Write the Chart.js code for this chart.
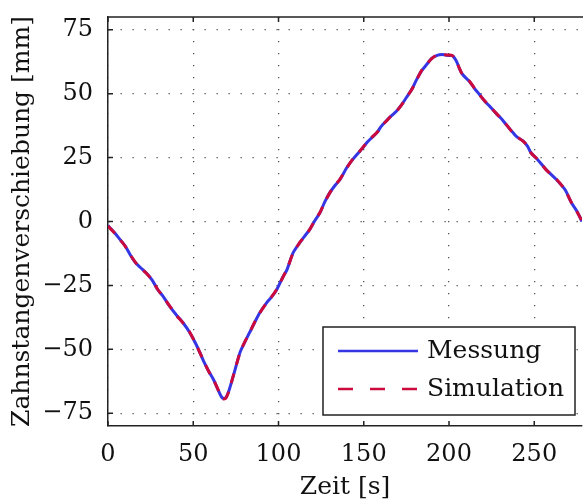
<!DOCTYPE html>
<html>
<head>
<meta charset="utf-8">
<script src="https://cdn.jsdelivr.net/npm/chart.js@4/dist/chart.umd.min.js"></script>
<style>
  html, body { margin: 0; padding: 0; background: #fff; }
  #wrap { width: 583px; height: 502px; position: relative; }
</style>
</head>
<body>
<div id="wrap"><canvas id="grafico"></canvas></div>
<script>
// Werte
const zeit = [0, 4, 7, 10, 13, 16, 19, 23, 26, 29, 32, 36, 40, 44, 48, 52, 56, 59, 62, 65, 67, 69, 71, 73.5, 77.4, 80, 83, 86, 89, 93, 96, 99, 102.8, 105, 108.6, 112.5, 115, 118.4, 121, 124.3, 127, 130, 133, 136, 140, 143, 146, 149, 152, 155, 158, 160, 163, 166, 169, 172, 175, 178, 181, 184, 187, 190, 193, 196, 199, 202, 204.4, 206, 208, 212, 215, 218, 221, 224, 228, 231, 234, 237.6, 240, 243.4, 246, 248, 252, 257, 263, 268, 271.8, 275, 278];
const messung = [-1.6, -4.5, -7, -9.5, -13, -16, -18, -20.5, -23, -26.5, -29, -33, -36.5, -39.6, -43.5, -48.5, -54.5, -58.5, -62, -66.5, -69, -69, -66, -60.4, -51.3, -47.5, -43.5, -39.5, -35.7, -31.8, -29.5, -26.6, -21.4, -18.8, -12.2, -8.3, -6, -3.1, 0, 3.4, 7.5, 11.2, 14, 16.4, 21, 23.8, 26.2, 28.5, 31, 33, 35, 37, 39.2, 41.2, 43, 45.5, 48.5, 51.5, 55.5, 59, 61.5, 63.9, 65, 65.3, 65, 64.8, 62.6, 60, 57.5, 54.8, 52, 49.6, 47, 45, 42, 40, 37.5, 34.7, 33, 31.5, 29.5, 27, 24.2, 20.3, 16.4, 12.5, 7.3, 4, 0];
const simulation = [-1.8, -4.6, -7.1, -9.6, -13, -15.9, -18.1, -20.6, -23.1, -26.4, -29.1, -32.9, -36.6, -39.7, -43.4, -48.6, -54.4, -58.6, -62.1, -66.4, -69.2, -69.2, -66.1, -60.3, -51.4, -47.4, -43.6, -39.4, -35.8, -31.9, -29.4, -26.5, -21.5, -18.7, -12.3, -8.2, -6.1, -3, 0.1, 3.5, 7.4, 11.1, 14.1, 16.5, 20.9, 23.9, 26.1, 28.6, 31, 33.1, 35, 37.1, 39.1, 41.3, 43, 45.4, 48.6, 51.4, 55.4, 59.1, 61.6, 63.8, 65.1, 65.4, 65.1, 64.9, 62.5, 60.1, 57.4, 54.9, 52.1, 49.5, 47.1, 44.9, 42.1, 39.9, 37.6, 34.6, 33.1, 31.4, 29.6, 26.9, 24.3, 20.2, 16.5, 12.4, 7.4, 3.9, 0.1];

const xTicks = [0, 50, 100, 150, 200, 250];
const yTicks = [-75, -50, -25, 0, 25, 50, 75];
const legendeNamen = ['Messung', 'Simulation'];

const serif = "'DejaVu Serif', serif";
const blau = '#3535e4';
const rot = '#cc0a3c';

// Achsen-Ticks nach innen + Rahmen oben + Legende mit Rahmen
const rahmenPlugin = {
    id: 'rahmen',
    afterDraw(chart) {
        const { ctx, chartArea: a, scales } = chart;
        ctx.save();
        ctx.strokeStyle = '#222';
        ctx.lineWidth = 1.5;
        ctx.beginPath();
        ctx.moveTo(a.left, a.top); ctx.lineTo(a.right + 2, a.top);
        xTicks.forEach(v => {
            const px = scales.x.getPixelForValue(v);
            ctx.moveTo(px, a.bottom); ctx.lineTo(px, a.bottom - 5);
            ctx.moveTo(px, a.top); ctx.lineTo(px, a.top + 5);
        });
        yTicks.forEach(v => {
            const py = scales.y.getPixelForValue(v);
            ctx.moveTo(a.left, py); ctx.lineTo(a.left + 5, py);
        });
        ctx.stroke();

        // Legende
        const bx = 323, by = 327, bw = 252, bh = 88;
        ctx.fillStyle = '#fff';
        ctx.fillRect(bx, by, bw, bh);
        ctx.strokeStyle = '#222';
        ctx.lineWidth = 1.5;
        ctx.strokeRect(bx, by, bw, bh);

        ctx.lineWidth = 2.5;
        ctx.strokeStyle = blau;
        ctx.beginPath(); ctx.moveTo(338, 351); ctx.lineTo(418, 351); ctx.stroke();
        ctx.strokeStyle = rot;
        ctx.setLineDash([15, 17]);
        ctx.beginPath(); ctx.moveTo(338, 389); ctx.lineTo(418, 389); ctx.stroke();
        ctx.setLineDash([]);

        ctx.fillStyle = '#111';
        ctx.font = '25px ' + serif;
        ctx.textBaseline = 'middle';
        ctx.fillText(legendeNamen[0], 427, 351);
        ctx.fillText(legendeNamen[1], 427, 389);
        ctx.restore();
    }
};

const ctx = document.getElementById('grafico').getContext('2d');
new Chart(ctx, {
    type: 'line',
    data: {
        datasets: [
            {
                label: legendeNamen[1],
                data: zeit.map((t, i) => ({ x: t, y: simulation[i] })),
                borderColor: rot,
                borderWidth: 3,
                borderDash: [10, 9],
                pointRadius: 0,
                tension: 0.3,
                order: 0
            },
            {
                label: legendeNamen[0],
                data: zeit.map((t, i) => ({ x: t, y: messung[i] })),
                borderColor: blau,
                borderWidth: 3,
                pointRadius: 0,
                tension: 0.3,
                order: 1
            }
        ]
    },
    options: {
        responsive: true,
        maintainAspectRatio: false,
        animation: false,
        layout: { padding: { top: 17, right: 1, left: 0, bottom: 0 } },
        plugins: {
            legend: { display: false },
            tooltip: { enabled: false }
        },
        scales: {
            x: {
                type: 'linear',
                min: 0,
                max: 278,
                afterBuildTicks: s => { s.ticks = xTicks.map(v => ({ value: v })); },
                afterFit: s => { s.height = 76; s.paddingLeft = 0; s.paddingRight = 0; },
                grid: { color: '#555', lineWidth: 1.3, drawTicks: false },
                border: { color: '#222', width: 1.5, dash: [1.3, 10.7] },
                ticks: { color: '#111', font: { family: serif, size: 24 }, padding: 14, maxRotation: 0 },
                title: { display: true, text: 'Zeit [s]', color: '#111', font: { family: serif, size: 25 }, padding: 0 }
            },
            y: {
                min: -80,
                max: 80,
                afterBuildTicks: s => { s.ticks = yTicks.map(v => ({ value: v })); },
                afterFit: s => { s.width = 108; s.paddingTop = 0; s.paddingBottom = 0; },
                grid: { color: '#555', lineWidth: 1.3, drawTicks: false },
                border: { color: '#222', width: 1.5, dash: [1.3, 10.7] },
                ticks: {
                    color: '#111',
                    font: { family: serif, size: 24 },
                    padding: 15,
                    callback: v => String(v).replace('-', '\u2212')
                },
                title: { display: true, text: 'Zahnstangenverschiebung [mm]', color: '#111', font: { family: serif, size: 25 }, padding: { top: 7, bottom: 0 } }
            }
        }
    },
    plugins: [rahmenPlugin]
});
</script>
</body>
</html>
